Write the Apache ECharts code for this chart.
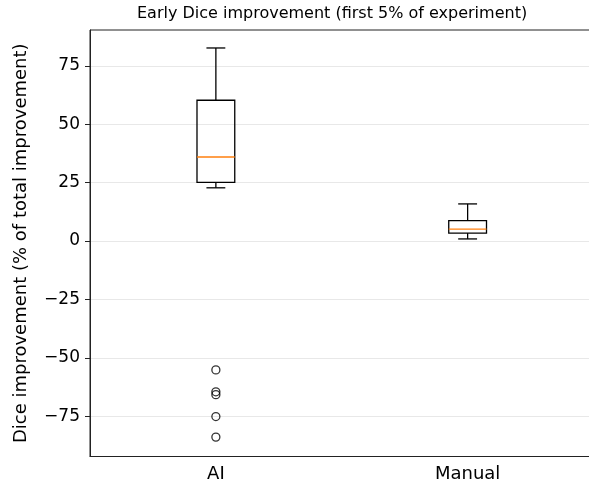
<!DOCTYPE html>
<html>
<head>
<meta charset="utf-8">
<script src="https://cdn.jsdelivr.net/npm/echarts@6/dist/echarts.min.js"></script>
<style>
  html, body { margin: 0; padding: 0; background: #fff; }
  #chart { width: 589px; height: 486px; }
</style>
</head>
<body>
<div id="chart"></div>
<script>
// Box statistics per group (percent of total improvement)
const categories = ['AI', 'Manual'];
const whiskerLow = [22.8, 0.9];
const quartile1 = [25.1, 3.4];
const medians = [36.0, 5.1];
const quartile3 = [60.3, 8.7];
const whiskerHigh = [82.7, 15.9];
// Fliers of the AI group beyond its whiskers
const fliersAI = [-55.2, -64.6, -65.8, -75.2, -84.0];
const yTicks = [-75, -50, -25, 0, 25, 50, 75];

const boxData = categories.map((c, i) => [i, whiskerLow[i], quartile1[i], medians[i], quartile3[i], whiskerHigh[i]]);
const flierData = fliersAI.map(v => [0, v]);

const FONT = 'DejaVu Sans';
const fmtTick = v => String(v).replace('-', '\u2212');

function renderBox(params, api) {
  const idx = api.value(0);
  const band = api.size([1, 0])[0];
  const half = band * 0.15 / 2;
  const capHalf = half / 2;
  const pLo = api.coord([idx, api.value(1)]);
  const pQ1 = api.coord([idx, api.value(2)]);
  const pMed = api.coord([idx, api.value(3)]);
  const pQ3 = api.coord([idx, api.value(4)]);
  const pHi = api.coord([idx, api.value(5)]);
  const x = pMed[0];
  const black = { stroke: '#000', lineWidth: 1.3, fill: null };
  return {
    type: 'group',
    children: [
      { type: 'line', shape: { x1: x, y1: pQ1[1], x2: x, y2: pLo[1] }, style: black },
      { type: 'line', shape: { x1: x, y1: pQ3[1], x2: x, y2: pHi[1] }, style: black },
      { type: 'line', shape: { x1: x - capHalf, y1: pLo[1], x2: x + capHalf, y2: pLo[1] }, style: black },
      { type: 'line', shape: { x1: x - capHalf, y1: pHi[1], x2: x + capHalf, y2: pHi[1] }, style: black },
      { type: 'rect', shape: { x: x - half, y: pQ3[1], width: half * 2, height: pQ1[1] - pQ3[1] }, style: { stroke: '#000', lineWidth: 1.3, fill: 'rgba(0,0,0,0)' } },
      { type: 'line', shape: { x1: x - half, y1: pMed[1], x2: x + half, y2: pMed[1] }, style: { stroke: '#ff7f0e', lineWidth: 1.3 } }
    ]
  };
}

const chart = echarts.init(document.getElementById('chart'), null, { renderer: 'canvas' });
chart.setOption({
  animation: false,
  backgroundColor: '#fff',
  title: {
    text: 'Early Dice improvement (first 5% of experiment)',
    left: 137,
    top: 6,
    padding: 0,
    textStyle: { fontFamily: FONT, fontSize: 16, fontWeight: 'normal', color: '#000' }
  },
  grid: {
    left: 90, top: 30, width: 503.5, height: 426.5,
    outerBoundsMode: 'none',
    containLabel: false,
    show: true, borderColor: '#222', borderWidth: 1, backgroundColor: 'rgba(0,0,0,0)'
  },
  xAxis: {
    type: 'category',
    data: categories,
    boundaryGap: true,
    axisLine: { onZero: false, lineStyle: { color: '#222', width: 1 } },
    axisTick: { alignWithLabel: true, length: 5, lineStyle: { color: '#222' } },
    axisLabel: { fontFamily: FONT, fontSize: 18, color: '#000', margin: 9 },
    splitLine: { show: false }
  },
  yAxis: {
    type: 'value',
    min: -92.3,
    max: 90.4,
    name: 'Dice improvement (% of total improvement)',
    nameLocation: 'middle',
    nameRotate: 90,
    nameGap: 60,
    nameTextStyle: { fontFamily: FONT, fontSize: 18, color: '#000' },
    axisLine: { show: true, onZero: false, lineStyle: { color: '#222', width: 1 } },
    axisTick: { show: true, length: 5, customValues: yTicks, lineStyle: { color: '#222' } },
    axisLabel: { fontFamily: FONT, fontSize: 17, color: '#000', margin: 10, customValues: yTicks, formatter: fmtTick },
    splitLine: { show: true, lineStyle: { color: '#e8e8e8', width: 1 } }
  },
  series: [
    {
      type: 'custom',
      renderItem: renderBox,
      data: boxData,
      encode: { x: 0, y: [1, 2, 3, 4, 5] },
      z: 3
    },
    {
      type: 'scatter',
      data: flierData,
      symbol: 'circle',
      symbolSize: 8,
      itemStyle: { color: 'rgba(0,0,0,0)', borderColor: '#000', borderWidth: 1.3 },
      z: 4
    }
  ]
});
</script>
</body>
</html>
